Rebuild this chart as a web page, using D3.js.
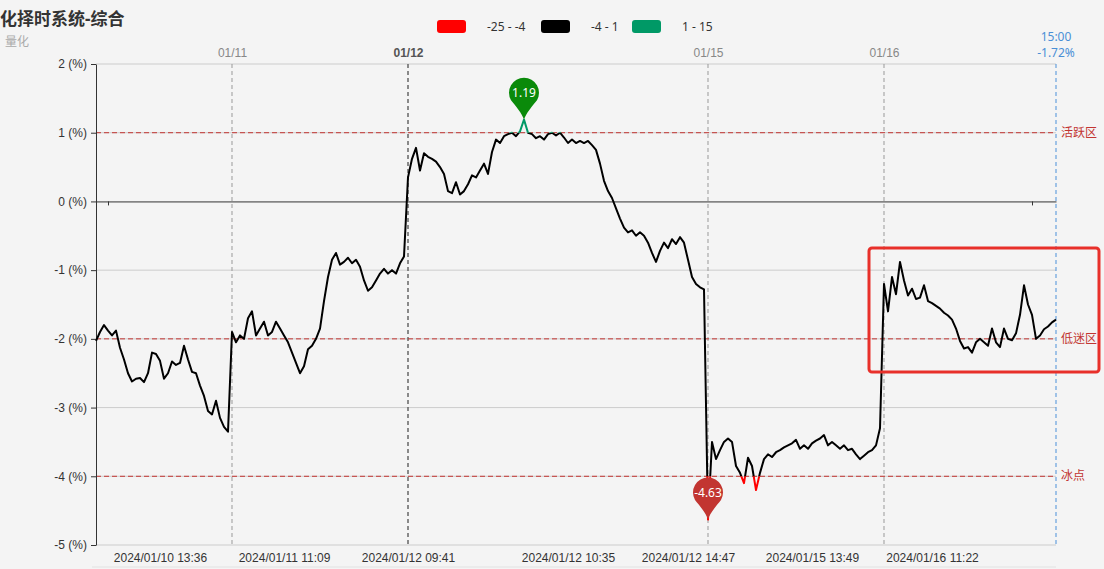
<!DOCTYPE html>
<html>
<head>
<meta charset="utf-8">
<script src="https://cdn.jsdelivr.net/npm/d3@7"></script>
<style>
  body { margin: 0; background: #f4f4f4; }
  svg { font-family: "Noto Sans", "Noto Sans CJK SC", sans-serif; }
</style>
</head>
<body>
<svg id="chart" width="1104" height="569"></svg>
<script>
// values per trading day (%), sampled evenly along the axis
const day0110 = [-2.03, -1.9, -1.8, -1.88, -1.95, -1.88, -2.13, -2.3, -2.5, -2.62, -2.58, -2.57, -2.63, -2.5,
  -2.2, -2.22, -2.32, -2.58, -2.5, -2.33, -2.38, -2.35, -2.1, -2.3, -2.48, -2.5, -2.68, -2.83, -3.05, -3.1,
  -2.9, -3.15, -3.28, -3.35];
const day0111 = [-1.9, -2.05, -1.95, -2.0, -1.7, -1.6, -1.95, -1.85, -1.75, -1.95, -1.9, -1.75, -1.85, -1.95,
  -2.05, -2.2, -2.35, -2.5, -2.4, -2.15, -2.1, -2.0, -1.85, -1.45, -1.1, -0.85, -0.75, -0.92, -0.88, -0.82,
  -0.9, -0.85, -0.95, -1.15, -1.3, -1.25, -1.15, -1.05, -0.98, -1.05, -1.0, -1.05, -0.9, -0.8];
const day0112 = [0.35, 0.62, 0.78, 0.45, 0.7, 0.65, 0.62, 0.58, 0.5, 0.4, 0.15, 0.12, 0.28, 0.1, 0.15, 0.25,
  0.38, 0.35, 0.45, 0.55, 0.4, 0.72, 0.9, 0.85, 0.95, 0.98, 1.0, 0.95, 1.02, 1.19, 1.0, 0.98, 0.92, 0.95, 0.9,
  0.98, 1.0, 0.96, 1.0, 0.93, 0.85, 0.9, 0.85, 0.88, 0.85, 0.88, 0.82, 0.75, 0.55, 0.3, 0.15, 0.05, -0.1,
  -0.25, -0.38, -0.45, -0.42, -0.5, -0.45, -0.5, -0.6, -0.75, -0.88, -0.72, -0.6, -0.68, -0.55, -0.62, -0.52,
  -0.6, -0.85, -1.1, -1.2, -1.25, -1.28];
const day0115 = [-4.63, -3.5, -3.75, -3.62, -3.5, -3.45, -3.5, -3.85, -3.95, -4.1, -3.73, -3.85, -4.2, -3.95,
  -3.75, -3.68, -3.72, -3.65, -3.62, -3.58, -3.55, -3.52, -3.47, -3.6, -3.55, -3.6, -3.52, -3.48, -3.45, -3.4,
  -3.55, -3.5, -3.55, -3.6, -3.55, -3.62, -3.6, -3.68, -3.75, -3.7, -3.65, -3.62, -3.55, -3.3];
const day0116 = [-1.2, -1.6, -1.1, -1.35, -0.88, -1.15, -1.37, -1.27, -1.42, -1.4, -1.22, -1.45, -1.48, -1.52,
  -1.56, -1.62, -1.66, -1.72, -1.85, -2.03, -2.14, -2.12, -2.2, -2.05, -2.0, -2.05, -2.1, -1.85, -2.05, -2.12,
  -1.85, -2.0, -2.02, -1.92, -1.65, -1.22, -1.5, -1.65, -2.0, -1.95, -1.86, -1.82, -1.76, -1.72];

const days = [day0110, day0111, day0112, day0115, day0116];
const dayNames = ["01/10", "01/11", "01/12", "01/15", "01/16"];
const lastTime = "15:00";

const bottomIdx = [16, 47, 78, 118, 148, 179, 209];
const bottomText = ["2024/01/10 13:36", "2024/01/11 11:09", "2024/01/12 09:41", "2024/01/12 10:35",
  "2024/01/12 14:47", "2024/01/15 13:49", "2024/01/16 11:22"];
const zeroTicks = [3, 234];

const yTicks = [2, 1, 0, -1, -2, -3, -4, -5];
const zones = [1, -2, -4];
const zoneNames = ["活跃区", "低迷区", "冰点"];

const pieceMin = [-25, -4, 1];
const pieceMax = [-4, 1, 15];
const pieceColor = ["#ff0000", "#000000", "#009966"];

// ---- layout
const margin = { left: 96, right: 48, top: 64, bottom: 24 };
const W = 1104, H = 569;
const values = [].concat(...days);
const dayStart = [];
days.reduce((acc, d) => { dayStart.push(acc); return acc + d.length; }, 0);

const x = d3.scaleLinear().domain([0, values.length - 1]).range([margin.left, W - margin.right]);
const y = d3.scaleLinear().domain([-5, 2]).range([H - margin.bottom, margin.top]);

const svg = d3.select("#chart");
svg.append("rect").attr("width", W).attr("height", H).attr("fill", "#f4f4f4");

// title (only the part that shows inside the frame)
svg.append("text").attr("x", 0).attr("y", 25).attr("font-size", 17).attr("font-weight", "bold")
  .attr("fill", "#333").text("化择时系统-综合");
svg.append("text").attr("x", 5).attr("y", 46).attr("font-size", 12).attr("fill", "#aaa").text("量化");

// legend
const legend = svg.append("g").attr("transform", "translate(437,20)");
const legendX = [0, 104, 195];
pieceColor.forEach((c, i) => {
  const g = legend.append("g").attr("transform", `translate(${legendX[i]},0)`);
  g.append("rect").attr("width", 29).attr("height", 13).attr("rx", 3).attr("fill", c);
  g.append("text").attr("x", 50).attr("y", 11).attr("font-size", 12).attr("fill", "#333")
    .text(`${pieceMin[i]} - ${pieceMax[i]}`);
});

// grid
svg.append("g").selectAll("line").data(yTicks.filter(d => d !== 0)).join("line")
  .attr("x1", x.range()[0]).attr("x2", x.range()[1])
  .attr("y1", d => y(d)).attr("y2", d => y(d))
  .attr("stroke", "#ccc").attr("stroke-width", 1);

// day separators
dayStart.slice(1).forEach(i => {
  const strong = bottomIdx.includes(i);
  svg.append("line").attr("x1", x(i)).attr("x2", x(i)).attr("y1", y(2)).attr("y2", y(-5))
    .attr("stroke", strong ? "#666" : "#999").attr("stroke-width", strong ? 1.5 : 1)
    .attr("stroke-dasharray", "4,3");
});
svg.append("line").attr("x1", x.range()[1]).attr("x2", x.range()[1]).attr("y1", y(2)).attr("y2", y(-5))
  .attr("stroke", "#4a90d9").attr("stroke-dasharray", "4,3");

// zone lines
zones.forEach((v, i) => {
  svg.append("line").attr("x1", x.range()[0]).attr("x2", x.range()[1]).attr("y1", y(v)).attr("y2", y(v))
    .attr("stroke", "#c23531").attr("stroke-dasharray", "5,3");
  svg.append("text").attr("x", x.range()[1] + 5).attr("y", y(v)).attr("dy", "0.35em")
    .attr("font-size", 12).attr("fill", "#c23531").text(zoneNames[i]);
});

// y axis
const yAxis = svg.append("g").attr("transform", `translate(${margin.left},0)`)
  .call(d3.axisLeft(y).tickValues(yTicks).tickFormat(d => `${d} (%)`).tickSize(5).tickSizeOuter(0).tickPadding(4));
yAxis.selectAll("text").attr("font-size", 12).attr("fill", "#333").attr("font-family", null);
yAxis.selectAll("line").attr("stroke", "#333");
yAxis.select(".domain").attr("stroke", "#333");

// zero axis
const zeroAxis = svg.append("g").attr("transform", `translate(0,${y(0)})`)
  .call(d3.axisBottom(x).tickValues(zeroTicks).tickFormat("").tickSize(4).tickSizeOuter(0));
zeroAxis.selectAll("line").attr("stroke", "#333");
zeroAxis.select(".domain").attr("stroke", "#333");

// top day labels
const topAxis = svg.append("g").attr("transform", `translate(0,${margin.top})`)
  .call(d3.axisTop(x).tickValues(dayStart.slice(1)).tickFormat((d, i) => dayNames[i + 1]).tickSize(0).tickPadding(7));
topAxis.select(".domain").remove();
topAxis.selectAll("text").attr("font-size", 12).attr("font-family", null)
  .attr("fill", d => bottomIdx.includes(d) ? "#555" : "#888")
  .attr("font-weight", d => bottomIdx.includes(d) ? "bold" : null);

// end label
const endX = x(values.length - 1);
svg.append("text").attr("x", endX).attr("y", 41).attr("text-anchor", "middle").attr("font-size", 12)
  .attr("fill", "#4a8fd6").text(lastTime);
svg.append("text").attr("x", endX).attr("y", 57).attr("text-anchor", "middle").attr("font-size", 12)
  .attr("fill", "#4a8fd6").text(values[values.length - 1].toFixed(2) + "%");

// bottom labels
const botAxis = svg.append("g").attr("transform", `translate(0,${y(-5)})`)
  .call(d3.axisBottom(x).tickValues(bottomIdx).tickFormat((d, i) => bottomText[i]).tickSize(0).tickPadding(8));
botAxis.select(".domain").remove();
botAxis.selectAll("text").attr("font-size", 12).attr("fill", "#333").attr("font-family", null);
svg.append("line").attr("x1", 92).attr("x2", x.range()[1]).attr("y1", 567).attr("y2", 567)
  .attr("stroke", "#e2e2e2");

// line split by visual pieces
const defs = svg.append("defs");
pieceColor.forEach((c, i) => {
  const y0 = pieceMax[i] > 2 ? 0 : y(pieceMax[i]);
  const y1 = pieceMin[i] < -5 ? H : y(pieceMin[i]);
  defs.append("clipPath").attr("id", "clip" + i).append("rect")
    .attr("x", 0).attr("width", W).attr("y", y0).attr("height", y1 - y0);
});
const line = d3.line().x((d, i) => x(i)).y(d => y(d));
pieceColor.forEach((c, i) => {
  svg.append("path").datum(values).attr("d", line).attr("clip-path", `url(#clip${i})`)
    .attr("fill", "none").attr("stroke", c).attr("stroke-width", 2).attr("stroke-linejoin", "round");
});

// max / min pins
function pinPath(r, h) {
  const cy = -h + r, a = Math.PI / 3;
  const lx = -r * Math.sin(a), ly = cy + r * Math.cos(a);
  return `M0,0 C-1.5,-6 ${lx + 4},${ly + 5} ${lx},${ly} A${r},${r} 0 1 1 ${-lx},${ly} C${-lx - 4},${ly + 5} 1.5,-6 0,0Z`;
}
const iMax = d3.maxIndex(values), iMin = d3.minIndex(values);
[[iMax, "#0a8a0a"], [iMin, "#c23531"]].forEach(([i, c]) => {
  const g = svg.append("g").attr("transform", `translate(${x(i)},${y(values[i])})`);
  g.append("path").attr("d", pinPath(15, 42)).attr("fill", c);
  g.append("text").attr("y", -27).attr("dy", "0.35em").attr("text-anchor", "middle")
    .attr("font-size", 12).attr("fill", "#fff").text(values[i].toFixed(2));
});

// annotation box
svg.append("rect").attr("x", 869).attr("y", 248).attr("width", 230).attr("height", 124).attr("rx", 3)
  .attr("fill", "none").attr("stroke", "#e8302a").attr("stroke-width", 3);
</script>
</body>
</html>
